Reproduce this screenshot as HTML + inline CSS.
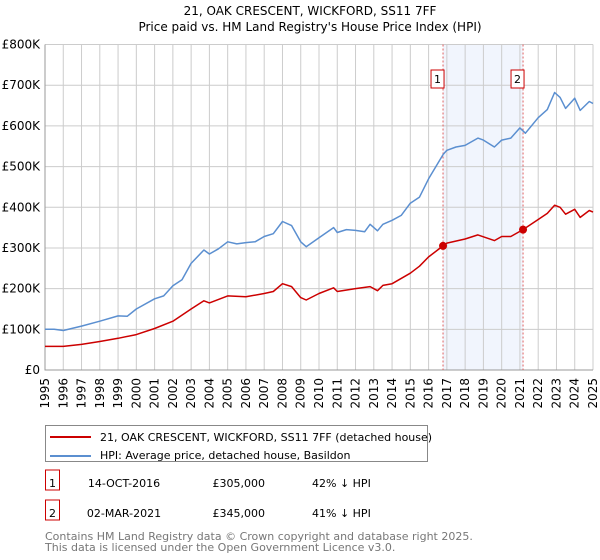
<!DOCTYPE html>
<html><head><meta charset="utf-8"><style>
body{margin:0;background:#fff;font-family:"Liberation Sans","DejaVu Sans",sans-serif;}
#wrap{position:relative;width:600px;height:560px;overflow:hidden}
svg text{font-family:"DejaVu Sans","Liberation Sans",sans-serif}
</style></head><body><div id="wrap">
<svg id="c" width="600" height="560"></svg>
</div>
<script>
const hpiYears=[1995,1995.5,1996,1997,1998,1999,1999.5,2000,2001,2001.5,2002,2002.5,2003,2003.7,2004,2004.5,2005,2005.5,2006,2006.5,2007,2007.5,2008,2008.5,2009,2009.3,2010,2010.8,2011,2011.5,2012,2012.5,2012.8,2013.2,2013.5,2014,2014.5,2015,2015.5,2016,2016.8,2017,2017.5,2018,2018.7,2019,2019.6,2020,2020.5,2021,2021.3,2022,2022.5,2022.9,2023.2,2023.5,2024,2024.3,2024.8,2025];
const hpiValues=[100,100,97,108,120,133,132,150,175,182,207,222,262,295,285,298,315,310,313,315,328,335,365,355,315,303,325,350,338,345,343,340,358,342,358,368,380,410,425,470,530,540,548,552,570,565,548,565,570,595,582,620,640,682,670,643,668,638,660,655];
const paidYears=[1995,1996,1997,1998,1999,2000,2001,2002,2003,2003.7,2004,2005,2006,2007,2007.5,2008,2008.5,2009,2009.3,2010,2010.8,2011,2012,2012.8,2013.2,2013.5,2014,2015,2015.5,2016,2016.79,2017,2018,2018.7,2019.6,2020,2020.5,2021.17,2022,2022.5,2022.9,2023.2,2023.5,2024,2024.3,2024.8,2025];
const paidValues=[58,58,63,70,78,87,102,120,150,170,165,182,180,188,193,212,205,178,172,188,202,193,200,205,195,208,212,238,255,278,305,312,322,332,318,328,328,345,370,385,405,400,383,395,375,392,388];
const saleYears=[2016.79,2021.17];
const saleValues=[305,345];
const saleLabels=["1","2"];
const yTicks=[0,100,200,300,400,500,600,700,800];
const yTickLabels=["£0","£100K","£200K","£300K","£400K","£500K","£600K","£700K","£800K"];
const xTicks=[1995,1996,1997,1998,1999,2000,2001,2002,2003,2004,2005,2006,2007,2008,2009,2010,2011,2012,2013,2014,2015,2016,2017,2018,2019,2020,2021,2022,2023,2024,2025];

const NS="http://www.w3.org/2000/svg",svg=document.getElementById('c');
const X0=45,X1=593,Y0=370,Y1=44.5;
const xs=y=>X0+(y-1995)/30*(X1-X0);
const ys=v=>Y0-v/800*(Y0-Y1);
function el(t,a,p){const e=document.createElementNS(NS,t);for(const k in a)e.setAttribute(k,a[k]);(p||svg).appendChild(e);return e;}
function tx(s,a){const e=el('text',a);e.textContent=s;return e;}

let t=tx("21, OAK CRESCENT, WICKFORD, SS11 7FF",{x:310,y:15,'text-anchor':'middle','font-size':12});


t=tx("Price paid vs. HM Land Registry's House Price Index (HPI)",{x:310,y:31,'text-anchor':'middle','font-size':12});



let r=el('rect',{x:xs(saleYears[0]),y:Y1,width:xs(saleYears[1])-xs(saleYears[0]),height:Y0-Y1,fill:'#eef3fc',opacity:0.8});



xTicks.forEach(y=>{
 let l=el('line',{x1:xs(y),x2:xs(y),y1:Y1,y2:Y0,stroke:'#cccccc','stroke-width':1});
 
 
 let lb=tx(String(y),{transform:`translate(${xs(y)+4},${Y0+8}) rotate(-90)`,'text-anchor':'end','font-size':12,fill:'#000'});
 
 
});
yTicks.forEach((v,i)=>{
 let l=el('line',{x1:X0,x2:X1,y1:ys(v),y2:ys(v),stroke:'#cccccc','stroke-width':1});
 
 
 let lb=tx(yTickLabels[i],{x:X0-5,y:ys(v)+4,'text-anchor':'end','font-size':12});
 
 
});
let ax=el('path',{d:`M${X0},${Y1}V${Y0}H${X1}`,fill:'none',stroke:'#999'});



saleYears.forEach((y,i)=>{
 let l=el('line',{x1:xs(y),x2:xs(y),y1:Y1,y2:Y0,stroke:'#e06060','stroke-dasharray':'2,2','stroke-width':1});
 
 
 let b=el('rect',{x:xs(y)-12,y:70,width:13,height:18,fill:'#fff',stroke:'#cc0000'});
 
 
 let lb=tx(saleLabels[i],{x:xs(y)-5.5,y:83,'text-anchor':'middle','font-size':11});
 
 
});

function line(xsA,vs,col,name){
 const d=xsA.map((y,i)=>(i?'L':'M')+xs(y).toFixed(1)+','+ys(vs[i]).toFixed(1)).join('');
 let p=el('path',{d,fill:'none',stroke:col,'stroke-width':1.5,'stroke-linejoin':'round'});
 
 
}
line(hpiYears,hpiValues,'#5b8fd0','hpi-line');
line(paidYears,paidValues,'#cc0000','price-paid-line');
saleYears.forEach((y,i)=>{
 let c=el('circle',{cx:xs(y),cy:ys(saleValues[i]),r:4,fill:'#cc0000'});
 
 
});

let lg=el('rect',{x:45.5,y:425.5,width:382,height:36,fill:'#fff',stroke:'#888'});


let l1=el('line',{x1:50,x2:91,y1:437,y2:437,stroke:'#cc0000','stroke-width':2});


let l2=el('line',{x1:50,x2:91,y1:456,y2:456,stroke:'#5b8fd0','stroke-width':2});


t=tx("21, OAK CRESCENT, WICKFORD, SS11 7FF (detached house)",{x:100,y:441,'font-size':11});


t=tx("HPI: Average price, detached house, Basildon",{x:100,y:459,'font-size':11});



const rows=[["1","14-OCT-2016","£305,000","42% ↓ HPI"],["2","02-MAR-2021","£345,000","41% ↓ HPI"]];
rows.forEach((rw,i)=>{
 const cy=483+i*30;
 let b=el('rect',{x:45.5,y:cy-13,width:14,height:20,fill:'#fff',stroke:'#cc0000'});
 
 
 let a=tx(rw[0],{x:52.5,y:cy+4,'text-anchor':'middle','font-size':11});
 
 
 a=tx(rw[1],{x:124,y:cy+4,'text-anchor':'middle','font-size':11});
 
 
 a=tx(rw[2],{x:265,y:cy+4,'text-anchor':'end','font-size':11});
 
 
 a=tx(rw[3],{x:312,y:cy+4,'font-size':11});
 
 
});
t=tx("Contains HM Land Registry data © Crown copyright and database right 2025.",{x:45,y:540,'font-size':11,fill:'#777'});


t=tx("This data is licensed under the Open Government Licence v3.0.",{x:45,y:551,'font-size':11,fill:'#777'});


</script></body></html>
